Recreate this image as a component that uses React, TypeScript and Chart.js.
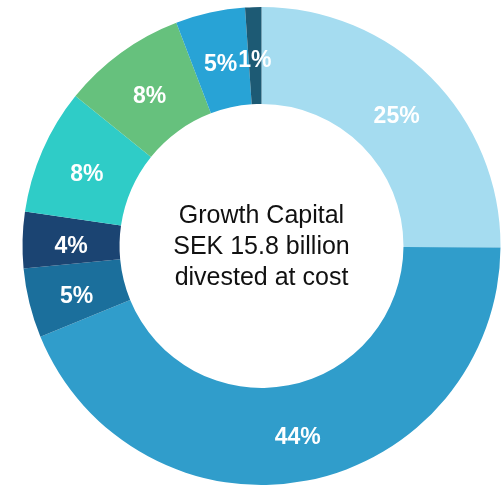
import React, { useEffect, useRef } from "react";
import { Chart, registerables } from "chart.js";

Chart.register(...registerables);

const categories = ["Segment A", "Segment B", "Segment C", "Segment D", "Segment E", "Segment F", "Segment G", "Segment H"];
const shares = [25.1, 43.7, 4.7, 3.8, 8.5, 8.4, 4.7, 1.1];
const shareLabels = ["25%", "44%", "5%", "4%", "8%", "8%", "5%", "1%"];
const colors = ["#a5dcf0", "#309dcb", "#1b6f9c", "#1b4472", "#2fccc7", "#66c17d", "#28a3d6", "#1d5a74"];
const centerLines = ["Growth Capital", "SEK 15.8 billion", "divested at cost"];

const labelPlugin = {
  id: "sliceLabels",
  afterDatasetsDraw(chart: any) {
    const ctx = chart.ctx;
    const meta = chart.getDatasetMeta(0);
    ctx.save();
    ctx.fillStyle = "#ffffff";
    ctx.font = "bold 23px 'Liberation Sans', Arial, sans-serif";
    ctx.textAlign = "center";
    ctx.textBaseline = "middle";
    meta.data.forEach((arc: any, i: number) => {
      const p = arc.getProps(["startAngle", "endAngle", "innerRadius", "outerRadius", "x", "y"], true);
      const a = (p.startAngle + p.endAngle) / 2;
      const r = (p.innerRadius + p.outerRadius) / 2;
      ctx.fillText(shareLabels[i], p.x + Math.cos(a) * r, p.y + Math.sin(a) * r + 5);
    });
    ctx.restore();
  },
};

const centerPlugin = {
  id: "centerText",
  afterDraw(chart: any) {
    const ctx = chart.ctx;
    const arc: any = chart.getDatasetMeta(0).data[0];
    if (!arc) return;
    const cx = arc.x;
    const cy = arc.y;
    const lh = 31;
    ctx.save();
    ctx.fillStyle = "#111111";
    ctx.font = "25px 'Liberation Sans', Arial, sans-serif";
    ctx.textAlign = "center";
    ctx.textBaseline = "middle";
    centerLines.forEach((t, i) => {
      ctx.fillText(t, cx, cy + 1 + (i - (centerLines.length - 1) / 2) * lh);
    });
    ctx.restore();
  },
};

export default function App() {
  const ref = useRef<HTMLCanvasElement>(null);
  useEffect(() => {
    if (!ref.current) return;
    const chart = new Chart(ref.current, {
      type: "doughnut",
      data: {
        labels: categories,
        datasets: [
          {
            data: shares,
            backgroundColor: colors,
            borderWidth: 0,
          },
        ],
      },
      options: {
        responsive: false,
        animation: false,
        cutout: "59.4%",
        layout: { padding: { left: 22, top: 7, right: 0, bottom: 0 } },
        plugins: {
          legend: { display: false },
          tooltip: { enabled: false },
        },
      },
      plugins: [labelPlugin, centerPlugin],
    });
    return () => chart.destroy();
  }, []);
  return (
    <div style={{ position: "absolute", left: 0, top: 0, width: 501, height: 485, background: "#ffffff" }}>
      <canvas ref={ref} width={501} height={485} style={{ display: "block" }} />
    </div>
  );
}
